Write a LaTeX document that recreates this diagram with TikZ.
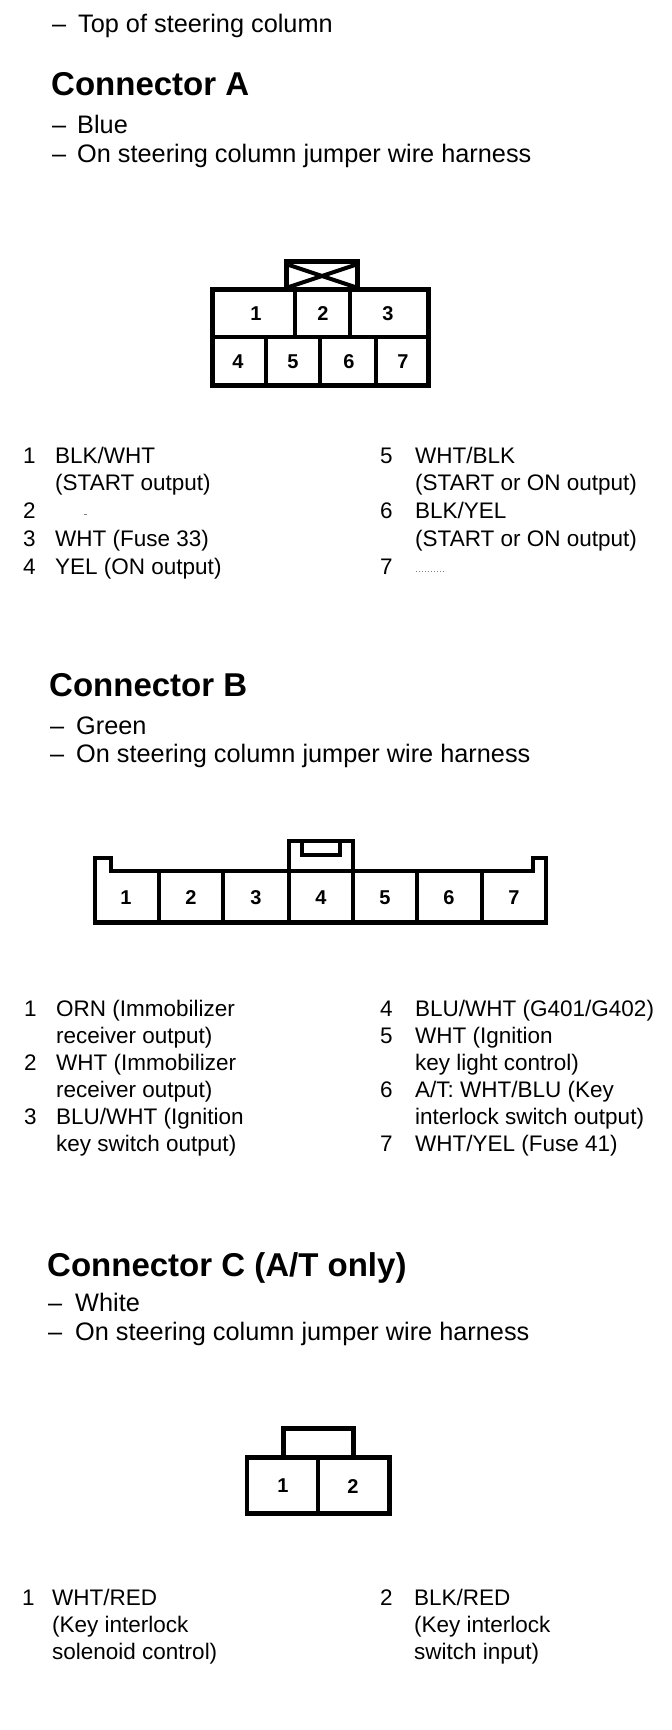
\documentclass[tikz,border=0pt]{standalone}
\usepackage{fontspec}
\setmainfont{Liberation Sans}
\begin{document}
\begin{tikzpicture}[x=1pt,y=-1pt,
  txt/.style={anchor=base west, inner sep=0pt, font=\fontsize{22.5}{27}\selectfont},
  sub/.style={anchor=base west, inner sep=0pt, font=\fontsize{25.3}{30}\selectfont},
  head/.style={anchor=base west, inner sep=0pt, font=\fontsize{33}{40}\selectfont\bfseries},
  pinno/.style={anchor=center, inner sep=0pt, font=\fontsize{20}{24}\selectfont\bfseries},
  wire/.style={line width=4.5pt, line join=miter, line cap=rect},
  faint/.style={line width=1pt, gray}]
\useasboundingbox (0,0) rectangle (672,1730);

% ---------- top ----------
\node[sub] (topdash) at (52,32) {–};
\node[sub] (toptxt) at (78,32) {Top of steering column};

% ---------- Connector A ----------
\node[head] (headA) at (51,95) {Connector A};
\node[sub] (adash1) at (52,133) {–};
\node[sub] (acol) at (77,133) {Blue};
\node[sub] (adash2) at (52,162) {–};
\node[sub] (aloc) at (77,162) {On steering column jumper wire harness};

\draw[wire] (212.5,289.5) rectangle (428.5,385.5);
\draw[wire] (212.5,337) -- (428.5,337);
\draw[wire] (295,289.5) -- (295,337);
\draw[wire] (350,289.5) -- (350,337);
\draw[wire] (266,337) -- (266,385.5);
\draw[wire] (320,337) -- (320,385.5);
\draw[wire] (376,337) -- (376,385.5);
\draw[wire] (286.5,289.5) -- (286.5,261.5) -- (357.5,261.5) -- (357.5,289.5);
\draw[line width=4pt] (289,265) -- (355,287);
\draw[line width=4pt] (289,287) -- (355,265);
\node[pinno] (a1) at (256,314) {1};
\node[pinno] (a2) at (323,314) {2};
\node[pinno] (a3) at (388,314) {3};
\node[pinno] (a4) at (238,362) {4};
\node[pinno] (a5) at (293,362) {5};
\node[pinno] (a6) at (349,362) {6};
\node[pinno] (a7) at (403,362) {7};

\node[txt] (la1n) at (23,463) {1};
\node[txt] (la1a) at (55,463) {BLK/WHT};
\node[txt] (la1b) at (55,490) {(START output)};
\node[txt] (la2n) at (23,518) {2};
\draw[faint] (84,514) -- (87,514);
\node[txt] (la3n) at (23,546) {3};
\node[txt] (la3a) at (55,546) {WHT (Fuse 33)};
\node[txt] (la4n) at (23,574) {4};
\node[txt] (la4a) at (55,574) {YEL (ON output)};

\node[txt] (la5n) at (380,463) {5};
\node[txt] (la5a) at (415,463) {WHT/BLK};
\node[txt] (la5b) at (415,490) {(START or ON output)};
\node[txt] (la6n) at (380,518) {6};
\node[txt] (la6a) at (415,518) {BLK/YEL};
\node[txt] (la6b) at (415,546) {(START or ON output)};
\node[txt] (la7n) at (380,574) {7};
\draw[faint, dotted] (416,571) -- (446,571);

% ---------- Connector B ----------
\node[head] (headB) at (49,696) {Connector B};
\node[sub] (bdash1) at (50,734) {–};
\node[sub] (bcol) at (76,734) {Green};
\node[sub] (bdash2) at (50,762) {–};
\node[sub] (bloc) at (76,762) {On steering column jumper wire harness};

\draw[wire] (95,922.5) -- (95,858) -- (111,858) -- (111,871) -- (289,871) -- (289,841)
  -- (353,841) -- (353,871) -- (533,871) -- (533,858) -- (546,858) -- (546,922.5) -- cycle;
\draw[wire] (289,871) -- (353,871);
\draw[wire] (302,841) -- (302,855) -- (340,855) -- (340,841);
\draw[wire] (159,871) -- (159,922.5);
\draw[wire] (223,871) -- (223,922.5);
\draw[wire] (289,871) -- (289,922.5);
\draw[wire] (353,871) -- (353,922.5);
\draw[wire] (417,871) -- (417,922.5);
\draw[wire] (482,871) -- (482,922.5);
\node[pinno] (b1) at (126,898) {1};
\node[pinno] (b2) at (191,898) {2};
\node[pinno] (b3) at (256,898) {3};
\node[pinno] (b4) at (321,898) {4};
\node[pinno] (b5) at (385,898) {5};
\node[pinno] (b6) at (449,898) {6};
\node[pinno] (b7) at (514,898) {7};

\node[txt] (lb1n) at (24,1016) {1};
\node[txt] (lb1a) at (56,1016) {ORN (Immobilizer};
\node[txt] (lb1b) at (56,1043) {receiver output)};
\node[txt] (lb2n) at (24,1070) {2};
\node[txt] (lb2a) at (56,1070) {WHT (Immobilizer};
\node[txt] (lb2b) at (56,1097) {receiver output)};
\node[txt] (lb3n) at (24,1124) {3};
\node[txt] (lb3a) at (56,1124) {BLU/WHT (Ignition};
\node[txt] (lb3b) at (56,1151) {key switch output)};

\node[txt] (lb4n) at (380,1016) {4};
\node[txt] (lb4a) at (415,1016) {BLU/WHT (G401/G402)};
\node[txt] (lb5n) at (380,1043) {5};
\node[txt] (lb5a) at (415,1043) {WHT (Ignition};
\node[txt] (lb5b) at (415,1070) {key light control)};
\node[txt] (lb6n) at (380,1097) {6};
\node[txt] (lb6a) at (415,1097) {A/T: WHT/BLU (Key};
\node[txt] (lb6b) at (415,1124) {interlock switch output)};
\node[txt] (lb7n) at (380,1151) {7};
\node[txt] (lb7a) at (415,1151) {WHT/YEL (Fuse 41)};

% ---------- Connector C ----------
\node[head] (headC) at (47,1276) {Connector C (A/T only)};
\node[sub] (cdash1) at (48,1311) {–};
\node[sub] (ccol) at (75,1311) {White};
\node[sub] (cdash2) at (48,1340) {–};
\node[sub] (cloc) at (75,1340) {On steering column jumper wire harness};

\draw[wire] (247,1457.5) rectangle (389.5,1513.5);
\draw[wire] (318,1457.5) -- (318,1513.5);
\draw[wire] (283.5,1457.5) -- (283.5,1428.5) -- (353.5,1428.5) -- (353.5,1457.5);
\node[pinno] (c1) at (283,1486) {1};
\node[pinno] (c2) at (353,1486) {2};

\node[txt] (lc1n) at (22,1605) {1};
\node[txt] (lc1a) at (52,1605) {WHT/RED};
\node[txt] (lc1b) at (52,1632) {(Key interlock};
\node[txt] (lc1c) at (52,1659) {solenoid control)};
\node[txt] (lc2n) at (380,1605) {2};
\node[txt] (lc2a) at (414,1605) {BLK/RED};
\node[txt] (lc2b) at (414,1632) {(Key interlock};
\node[txt] (lc2c) at (414,1659) {switch input)};
\end{tikzpicture}
\end{document}
